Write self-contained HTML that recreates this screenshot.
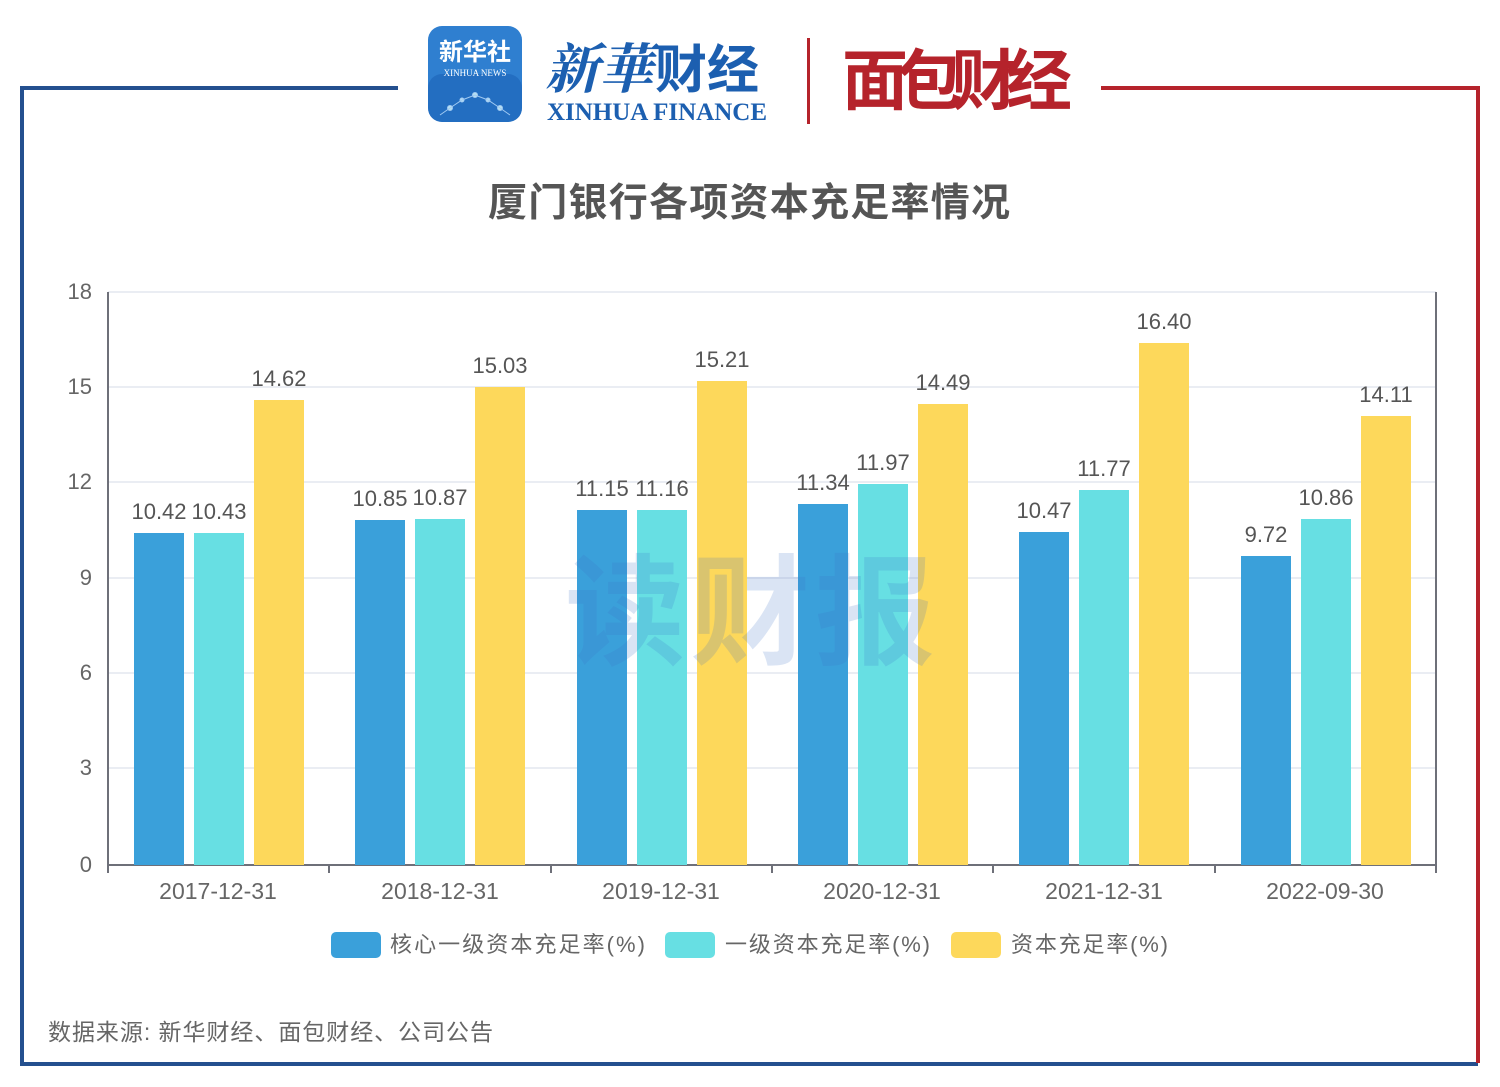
<!DOCTYPE html>
<html><head><meta charset="utf-8"><style>
html,body{margin:0;padding:0;background:#fff;}
svg{display:block;font-family:"Liberation Sans","Noto Sans CJK SC",sans-serif;}
</style></head><body>
<svg width="1500" height="1087" viewBox="0 0 1500 1087" xmlns="http://www.w3.org/2000/svg">
<rect width="1500" height="1087" fill="#fff"/>
<polyline points="398,88 22,88 22,1064 1478,1064" fill="none" stroke="#24508f" stroke-width="4"/>
<polyline points="1101,88 1478,88 1478,1063" fill="none" stroke="#b5232b" stroke-width="4"/>
<rect x="428" y="26" width="94" height="96" rx="14" fill="#2f7fd0"/>
<rect x="428" y="74" width="94" height="48" rx="14" fill="#1d63b8" opacity="0.6"/>
<text x="475" y="60" font-size="24" fill="#fff" text-anchor="middle" font-weight="bold">新华社</text>
<text x="475" y="76" font-size="9" fill="#fff" text-anchor="middle" font-family="Liberation Serif">XINHUA NEWS</text>
<g stroke="#bfe0ff" stroke-width="1" fill="#dff" opacity="0.8"><circle cx="450" cy="108" r="2.5"/><circle cx="475" cy="95" r="2.5"/><circle cx="500" cy="108" r="2.5"/><circle cx="462" cy="100" r="2"/><circle cx="488" cy="100" r="2"/><polyline points="440,115 450,108 462,100 475,95 488,100 500,108 510,115" fill="none"/></g>
<text x="545" y="88" font-size="54" fill="#1c5fb0" font-family="Liberation Serif,'Noto Serif CJK SC',serif" font-style="italic" font-weight="bold">新華</text>
<text x="655" y="88" font-size="52" fill="#1c5fb0" font-weight="bold">财经</text>
<text x="547" y="120" font-size="25" fill="#1c5fb0" font-family="Liberation Serif" font-weight="bold" textLength="220">XINHUA FINANCE</text>
<rect x="807" y="38" width="3" height="86" fill="#b5232b"/>
<text x="842" y="104" font-size="66" fill="#b5232b" font-weight="bold" textLength="230">面包财经</text>
<text x="488" y="216" font-size="39" fill="#555" font-weight="bold" textLength="522">厦门银行各项资本充足率情况</text>
<g stroke="#e4e7ef" stroke-width="1.5">
<line x1="108" y1="292" x2="1436" y2="292"/><line x1="108" y1="387" x2="1436" y2="387"/>
<line x1="108" y1="482" x2="1436" y2="482"/><line x1="108" y1="578" x2="1436" y2="578"/>
<line x1="108" y1="673" x2="1436" y2="673"/><line x1="108" y1="768" x2="1436" y2="768"/>
</g>
<g stroke="#6e7079" stroke-width="2">
<line x1="108" y1="292" x2="108" y2="866"/><line x1="1436" y1="292" x2="1436" y2="866"/>
<line x1="108" y1="865" x2="1436" y2="865"/>
<line x1="108" y1="865" x2="108" y2="873"/><line x1="329" y1="865" x2="329" y2="873"/><line x1="551" y1="865" x2="551" y2="873"/><line x1="772" y1="865" x2="772" y2="873"/><line x1="993" y1="865" x2="993" y2="873"/><line x1="1215" y1="865" x2="1215" y2="873"/><line x1="1436" y1="865" x2="1436" y2="873"/>
</g>
<g font-size="22" fill="#666" text-anchor="end">
<text x="92" y="299">18</text><text x="92" y="394">15</text><text x="92" y="489">12</text><text x="92" y="585">9</text><text x="92" y="680">6</text><text x="92" y="775">3</text><text x="92" y="872">0</text>
</g>
<g font-size="23" fill="#666" text-anchor="middle">
<text x="218" y="899">2017-12-31</text><text x="440" y="899">2018-12-31</text><text x="661" y="899">2019-12-31</text><text x="882" y="899">2020-12-31</text><text x="1104" y="899">2021-12-31</text><text x="1325" y="899">2022-09-30</text>
</g>
<g fill="#3aa0da">
<rect x="134" y="533" width="50" height="332"/><rect x="355" y="520" width="50" height="345"/><rect x="577" y="510" width="50" height="355"/><rect x="798" y="504" width="50" height="361"/><rect x="1019" y="532" width="50" height="333"/><rect x="1241" y="556" width="50" height="309"/>
</g>
<g fill="#67dfe3">
<rect x="194" y="533" width="50" height="332"/><rect x="415" y="519" width="50" height="346"/><rect x="637" y="510" width="50" height="355"/><rect x="858" y="484" width="50" height="381"/><rect x="1079" y="490" width="50" height="375"/><rect x="1301" y="519" width="50" height="346"/>
</g>
<g fill="#fdd85b">
<rect x="254" y="400" width="50" height="465"/><rect x="475" y="387" width="50" height="478"/><rect x="697" y="381" width="50" height="484"/><rect x="918" y="404" width="50" height="461"/><rect x="1139" y="343" width="50" height="522"/><rect x="1361" y="416" width="50" height="449"/>
</g>
<text x="750" y="655" font-size="120" fill="#3a6fc8" opacity="0.18" font-weight="bold" text-anchor="middle" textLength="370">读财报</text>
<g font-size="22" fill="#555" text-anchor="middle">
<text x="159" y="519">10.42</text><text x="219" y="519">10.43</text><text x="279" y="386">14.62</text>
<text x="380" y="506">10.85</text><text x="440" y="505">10.87</text><text x="500" y="373">15.03</text>
<text x="602" y="496">11.15</text><text x="662" y="496">11.16</text><text x="722" y="367">15.21</text>
<text x="823" y="490">11.34</text><text x="883" y="470">11.97</text><text x="943" y="390">14.49</text>
<text x="1044" y="518">10.47</text><text x="1104" y="476">11.77</text><text x="1164" y="329">16.40</text>
<text x="1266" y="542">9.72</text><text x="1326" y="505">10.86</text><text x="1386" y="402">14.11</text>
</g>
<rect x="331" y="932" width="50" height="26" rx="5" fill="#3aa0da"/>
<text x="390" y="952" font-size="22" fill="#666" textLength="255">核心一级资本充足率(%)</text>
<rect x="665" y="932" width="50" height="26" rx="5" fill="#67dfe3"/>
<text x="725" y="952" font-size="22" fill="#666" textLength="205">一级资本充足率(%)</text>
<rect x="951" y="932" width="50" height="26" rx="5" fill="#fdd85b"/>
<text x="1011" y="952" font-size="22" fill="#666" textLength="157">资本充足率(%)</text>
<text x="48" y="1040" font-size="23" fill="#666" textLength="445">数据来源: 新华财经、面包财经、公司公告</text>
</svg>
</body></html>
